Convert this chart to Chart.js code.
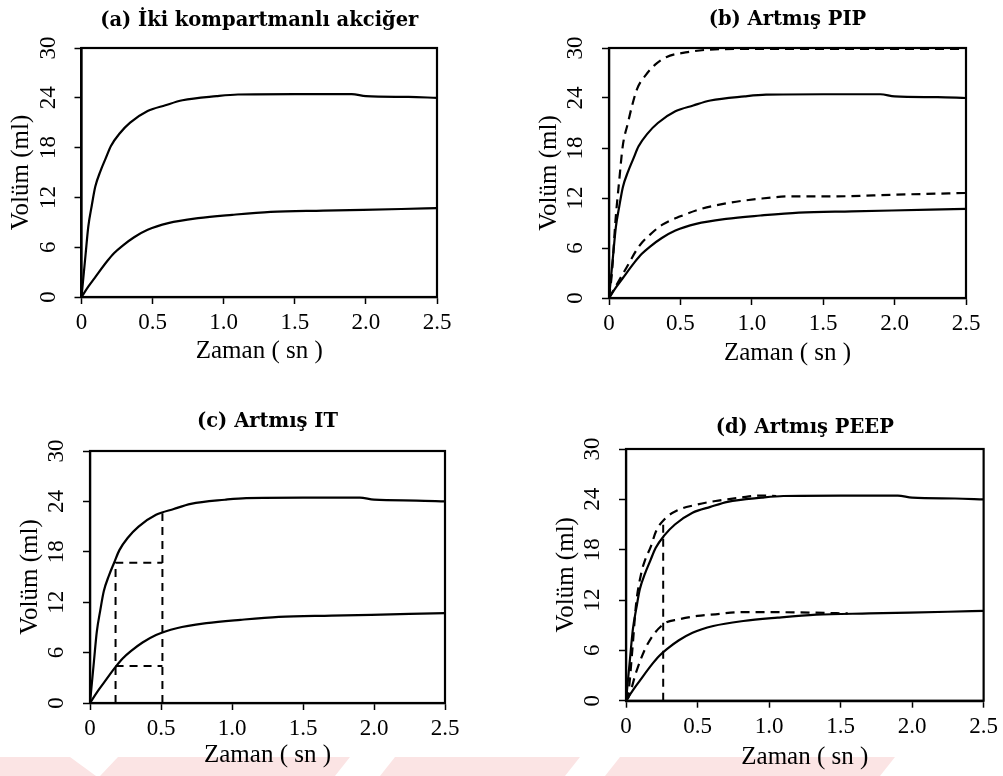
<!DOCTYPE html>
<html>
<head>
<meta charset="utf-8">
<title>Volüm - Zaman</title>
<script src="https://cdn.jsdelivr.net/npm/chart.js@4/dist/chart.umd.min.js"></script>
<style>
    html, body { margin: 0; padding: 0; background: #fff; }
    body { position: relative; width: 1003px; height: 776px; overflow: hidden; }
    canvas { position: absolute; }
    .wm { position: absolute; top: 757px; height: 19px; background: #fbe4e4; }
</style>
</head>
<body>
<!-- faint watermark band at the bottom of the page -->
<div class="wm" style="left:0;width:96px;clip-path:polygon(0 0,70px 0,96px 100%,0 100%)"></div>
<div class="wm" style="left:100px;width:250px;clip-path:polygon(18px 0,250px 0,235px 100%,0 100%)"></div>
<div class="wm" style="left:380px;width:200px;clip-path:polygon(15px 0,200px 0,185px 100%,0 100%)"></div>
<div class="wm" style="left:605px;width:290px;clip-path:polygon(15px 0,290px 0,275px 100%,0 100%)"></div>

<canvas id="chartA" width="500" height="388" style="left:0;top:0"></canvas>
<canvas id="chartB" width="503" height="388" style="left:500px;top:0"></canvas>
<canvas id="chartC" width="500" height="388" style="left:0;top:388px"></canvas>
<canvas id="chartD" width="503" height="388" style="left:500px;top:388px"></canvas>

<script>
// Axis ticks
const xTicks = [0, 0.5, 1.0, 1.5, 2.0, 2.5];
const xTickLabels = ['0', '0.5', '1.0', '1.5', '2.0', '2.5'];
const yTicks = [0, 6, 12, 18, 24, 30];
const yTickLabels = ['0', '6', '12', '18', '24', '30'];

// Baseline (solid) curves, the same in every panel
const upperTime = [0, 0.028, 0.048, 0.072, 0.097, 0.134, 0.17, 0.207, 0.268, 0.342, 0.465, 0.59, 0.71, 0.95, 1.1, 1.5, 1.9, 2.0, 2.3, 2.5];
const upperVolume = [0, 5.0, 8.5, 11.0, 13.3, 15.2, 16.7, 18.2, 19.7, 21.0, 22.4, 23.1, 23.7, 24.2, 24.4, 24.45, 24.45, 24.2, 24.1, 24.0];
const lowerTime = [0, 0.05, 0.097, 0.18, 0.23, 0.29, 0.37, 0.465, 0.61, 0.82, 1.06, 1.33, 1.7, 2.25, 2.5];
const lowerVolume = [0, 1.3, 2.4, 4.3, 5.3, 6.2, 7.2, 8.1, 8.9, 9.5, 9.9, 10.25, 10.4, 10.6, 10.7];

// (b) increased PIP (dashed)
const pipUpperTime = [0, 0.02, 0.045, 0.071, 0.096, 0.134, 0.159, 0.197, 0.26, 0.323, 0.40, 0.55, 0.70, 1.0, 2.5];
const pipUpperVolume = [0, 2.9, 9.2, 14.0, 18.2, 21.1, 22.9, 25.1, 26.8, 28.0, 28.9, 29.5, 29.8, 29.9, 29.9];
const pipLowerTime = [0, 0.121, 0.21, 0.30, 0.374, 0.5, 0.626, 0.80, 1.05, 1.28, 1.6, 2.0, 2.5];
const pipLowerVolume = [0, 3.6, 6.2, 7.8, 8.8, 9.8, 10.6, 11.3, 11.9, 12.2, 12.2, 12.4, 12.6];

// (c) increased IT guide lines (dashed)
const itShortTime = [0.18, 0.18, 0.51];
const itShortVolume = [0, 16.7, 16.7];
const itLowTime = [0.18, 0.51];
const itLowVolume = [4.4, 4.4];
const itLongTime = [0.51, 0.51];
const itLongVolume = [0, 22.6];

// (d) increased PEEP (dashed)
const peepUpperTime = [0, 0.02, 0.045, 0.071, 0.108, 0.134, 0.172, 0.21, 0.273, 0.36, 0.475, 0.626, 0.80, 0.93, 1.05];
const peepUpperVolume = [0, 1.4, 6.2, 11.6, 15.3, 16.8, 18.3, 20.2, 21.7, 22.7, 23.3, 23.8, 24.2, 24.45, 24.4];
const peepLowerTime = [0, 0.02, 0.071, 0.146, 0.26, 0.37, 0.5, 0.626, 0.8, 1.03, 1.3, 1.55];
const peepLowerVolume = [0, 0.5, 3.4, 6.6, 9.1, 9.7, 10.1, 10.3, 10.55, 10.55, 10.5, 10.4];
const peepMarkTime = [0.26, 0.26];
const peepMarkVolume = [0, 21.5];

Chart.defaults.font.family = "'Liberation Serif', serif";
Chart.defaults.color = '#000';

// box around the plot area, like R's box()
const framePlugin = {
    id: 'frame',
    afterDatasetsDraw(chart) {
        const { ctx, chartArea: a } = chart;
        ctx.save();
        ctx.strokeStyle = '#000';
        ctx.lineWidth = 2.2;
        ctx.strokeRect(a.left, a.top, a.right - a.left, a.bottom - a.top);
        ctx.restore();
    }
};

function points(times, volumes) {
    return times.map((t, i) => ({ x: t, y: volumes[i] }));
}

function curve(times, volumes, dashed) {
    return {
        data: points(times, volumes),
        borderColor: '#000',
        borderWidth: 2.2,
        borderDash: dashed ? [9, 6] : [],
        pointRadius: 0,
        cubicInterpolationMode: 'monotone',
        fill: false
    };
}

function guide(times, volumes) {
    return {
        data: points(times, volumes),
        borderColor: '#000',
        borderWidth: 2,
        borderDash: [8, 6],
        pointRadius: 0,
        tension: 0,
        fill: false
    };
}

function baseline() {
    return [curve(upperTime, upperVolume, false), curve(lowerTime, lowerVolume, false)];
}

/**
 * Builds one panel. p holds the layout numbers so the plot box lands where it is in the picture.
 */
function makePanel(id, title, p, datasets) {
    return new Chart(document.getElementById(id), {
        type: 'line',
        data: { datasets: datasets },
        plugins: [framePlugin],
        options: {
            responsive: false,
            animation: false,
            events: [],
            layout: { padding: { left: p.padLeft, right: p.padRight, top: 0, bottom: 0 } },
            plugins: {
                legend: { display: false },
                tooltip: { enabled: false },
                title: {
                    display: true,
                    text: title,
                    fullSize: false,
                    color: '#000',
                    font: { family: "'DejaVu Serif', serif", weight: 'bold', size: 19.5, lineHeight: 1.2 },
                    padding: { top: p.titleTop, bottom: p.titleBottom }
                }
            },
            scales: {
                x: {
                    type: 'linear',
                    min: 0,
                    max: 2.5,
                    afterBuildTicks: s => { s.ticks = xTicks.map(v => ({ value: v })); },
                    afterFit: s => { s.height = p.xHeight; },
                    ticks: {
                        callback: (v, i) => xTickLabels[i],
                        font: { size: 23, lineHeight: 1.2 },
                        padding: 5,
                        maxRotation: 0,
                        autoSkip: false
                    },
                    grid: { drawOnChartArea: false, drawTicks: true, tickLength: 7, tickWidth: 1.5, tickColor: '#000' },
                    border: { display: true, color: '#000', width: 2.2 },
                    title: {
                        display: true,
                        text: 'Zaman ( sn )',
                        font: { size: 25, lineHeight: 1.2 },
                        padding: { top: 0, bottom: p.xTitleBottom }
                    }
                },
                y: {
                    type: 'linear',
                    min: 0,
                    max: 30,
                    afterBuildTicks: s => { s.ticks = yTicks.map(v => ({ value: v })); },
                    afterFit: s => { s.width = 81.5; },
                    ticks: {
                        callback: (v, i) => yTickLabels[i],
                        font: { size: 23, lineHeight: 1.2 },
                        padding: 14.5,
                        minRotation: 90,
                        maxRotation: 90,
                        crossAlign: 'center',
                        autoSkip: false
                    },
                    grid: { drawOnChartArea: false, drawTicks: true, tickLength: 7, tickWidth: 1.5, tickColor: '#000' },
                    border: { display: true, color: '#000', width: 2.2 },
                    title: {
                        display: true,
                        text: 'Volüm (ml)',
                        font: { size: 25, lineHeight: 1.2 },
                        padding: { top: 6.5, bottom: 0 }
                    }
                }
            }
        }
    });
}

makePanel('chartA', '(a) İki kompartmanlı akciğer',
    { padLeft: 0, padRight: 63, xHeight: 91, xTitleBottom: 22, titleTop: 9.3, titleBottom: 15.3 },
    baseline());

makePanel('chartB', '(b) Artmış PIP',
    { padLeft: 27.5, padRight: 37, xHeight: 90, xTitleBottom: 20, titleTop: 8.3, titleBottom: 16.3 },
    baseline().concat([
        curve(pipUpperTime, pipUpperVolume, true),
        curve(pipLowerTime, pipLowerVolume, true)
    ]));

makePanel('chartC', '(c) Artmış IT',
    { padLeft: 8.5, padRight: 55, xHeight: 73, xTitleBottom: 6, titleTop: 22.3, titleBottom: 17.3 },
    baseline().concat([
        guide(itShortTime, itShortVolume),
        guide(itLowTime, itLowVolume),
        guide(itLongTime, itLongVolume)
    ]));

makePanel('chartD', '(d) Artmış PEEP',
    { padLeft: 44.5, padRight: 19, xHeight: 75.3, xTitleBottom: 3.5, titleTop: 28.3, titleBottom: 9.3 },
    baseline().concat([
        curve(peepUpperTime, peepUpperVolume, true),
        curve(peepLowerTime, peepLowerVolume, true),
        guide(peepMarkTime, peepMarkVolume)
    ]));
</script>
</body>
</html>
